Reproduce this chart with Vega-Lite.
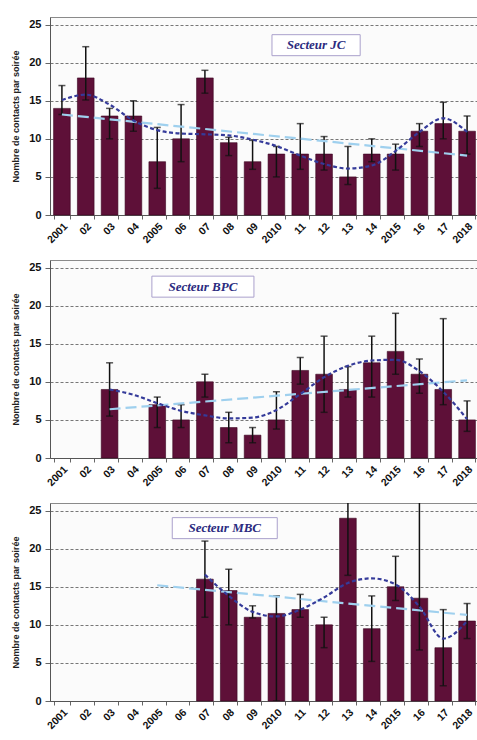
{
  "$schema": "https://vega.github.io/schema/vega-lite/v6.json",
  "padding": {"left": 11, "top": 16, "right": 0, "bottom": 0},
  "background": "white",
  "spacing": 13,
  "config": {
    "view": {"stroke": "#8a8a8a", "strokeWidth": 1, "fill": "#fbfbfb"},
    "font": "Liberation Sans",
    "axisY": {"title": "Nombre de contacts par soirée", "titleFont": "Liberation Sans", "titleFontSize": 9, "titleFontWeight": "bold", "titleColor": "#222", "titlePadding": 8,
      "values": [0, 5, 10, 15, 20, 25], "labelFont": "Liberation Sans", "labelFontWeight": "bold", "labelFontSize": 11, "labelColor": "#111", "labelPadding": 4,
      "tickSize": 5, "tickColor": "#666", "domainColor": "#555", "grid": true, "gridDash": [3, 2], "gridColor": "#777"},
    "axisX": {"title": null, "labelAngle": -45, "labelFont": "Liberation Sans", "labelFontWeight": "bold", "labelFontSize": 10.5, "labelColor": "#111", "tickBand": "extent", "tickSize": 4, "tickColor": "#666", "domainColor": "#555", "labelPadding": 2, "grid": false}
  },
  "datasets": {
    "bars": [
      {"s": "JC", "a": "2001", "n": 14, "lo": 13.2, "hi": 17},
      {"s": "JC", "a": "02", "n": 18, "lo": 15.1, "hi": 22.1},
      {"s": "JC", "a": "03", "n": 13, "lo": 10, "hi": 14},
      {"s": "JC", "a": "04", "n": 13, "lo": 11, "hi": 15},
      {"s": "JC", "a": "2005", "n": 7, "lo": 3.5, "hi": 11.5},
      {"s": "JC", "a": "06", "n": 10, "lo": 7, "hi": 14.5},
      {"s": "JC", "a": "07", "n": 18, "lo": 16, "hi": 19},
      {"s": "JC", "a": "08", "n": 9.5, "lo": 7.8, "hi": 10.2},
      {"s": "JC", "a": "09", "n": 7, "lo": 6, "hi": 9.8},
      {"s": "JC", "a": "2010", "n": 8, "lo": 5, "hi": 9},
      {"s": "JC", "a": "11", "n": 8, "lo": 6, "hi": 12},
      {"s": "JC", "a": "12", "n": 8, "lo": 5.9, "hi": 10.3},
      {"s": "JC", "a": "13", "n": 5, "lo": 4, "hi": 9},
      {"s": "JC", "a": "14", "n": 8, "lo": 7, "hi": 10},
      {"s": "JC", "a": "2015", "n": 8, "lo": 5.9, "hi": 9.3},
      {"s": "JC", "a": "16", "n": 11, "lo": 9, "hi": 12},
      {"s": "JC", "a": "17", "n": 12, "lo": 10, "hi": 14.8},
      {"s": "JC", "a": "2018", "n": 11, "lo": 8, "hi": 13},
      {"s": "BPC", "a": "03", "n": 9, "lo": 5.5, "hi": 12.5},
      {"s": "BPC", "a": "2005", "n": 7, "lo": 4, "hi": 8},
      {"s": "BPC", "a": "06", "n": 5, "lo": 4, "hi": 7},
      {"s": "BPC", "a": "07", "n": 10, "lo": 8, "hi": 11},
      {"s": "BPC", "a": "08", "n": 4, "lo": 2, "hi": 6},
      {"s": "BPC", "a": "09", "n": 3, "lo": 2, "hi": 4},
      {"s": "BPC", "a": "2010", "n": 5, "lo": 3.8, "hi": 8.7},
      {"s": "BPC", "a": "11", "n": 11.5, "lo": 9.7, "hi": 13.2},
      {"s": "BPC", "a": "12", "n": 11, "lo": 6, "hi": 16},
      {"s": "BPC", "a": "13", "n": 9, "lo": 8, "hi": 12},
      {"s": "BPC", "a": "14", "n": 12.5, "lo": 8, "hi": 16},
      {"s": "BPC", "a": "2015", "n": 14, "lo": 11, "hi": 19},
      {"s": "BPC", "a": "16", "n": 11, "lo": 8.5, "hi": 13},
      {"s": "BPC", "a": "17", "n": 9, "lo": 7, "hi": 18.3},
      {"s": "BPC", "a": "2018", "n": 5, "lo": 3.5, "hi": 7.5},
      {"s": "MBC", "a": "07", "n": 16, "lo": 11, "hi": 21},
      {"s": "MBC", "a": "08", "n": 14.5, "lo": 10, "hi": 17.3},
      {"s": "MBC", "a": "09", "n": 11, "lo": 10.9, "hi": 12.5},
      {"s": "MBC", "a": "2010", "n": 11.5, "lo": 0, "hi": 13.8},
      {"s": "MBC", "a": "11", "n": 12, "lo": 11, "hi": 14},
      {"s": "MBC", "a": "12", "n": 10, "lo": 7, "hi": 11},
      {"s": "MBC", "a": "13", "n": 24, "lo": 16.5, "hi": 31.5},
      {"s": "MBC", "a": "14", "n": 9.5, "lo": 5.2, "hi": 13.8},
      {"s": "MBC", "a": "2015", "n": 15, "lo": 13.2, "hi": 19},
      {"s": "MBC", "a": "16", "n": 13.5, "lo": 6.7, "hi": 27},
      {"s": "MBC", "a": "17", "n": 7, "lo": 2, "hi": 12},
      {"s": "MBC", "a": "2018", "n": 10.5, "lo": 8.2, "hi": 12.8}
    ],
    "poly": [
      {"s": "JC", "a": "2001", "v": 15.1},
      {"s": "JC", "a": "02", "v": 15.8},
      {"s": "JC", "a": "03", "v": 14.5},
      {"s": "JC", "a": "04", "v": 12.4},
      {"s": "JC", "a": "2005", "v": 11.15},
      {"s": "JC", "a": "06", "v": 10.7},
      {"s": "JC", "a": "07", "v": 10.6},
      {"s": "JC", "a": "08", "v": 10.45},
      {"s": "JC", "a": "09", "v": 9.9},
      {"s": "JC", "a": "2010", "v": 9.05},
      {"s": "JC", "a": "11", "v": 7.8},
      {"s": "JC", "a": "12", "v": 6.7},
      {"s": "JC", "a": "13", "v": 6.1},
      {"s": "JC", "a": "14", "v": 6.5},
      {"s": "JC", "a": "2015", "v": 8.4},
      {"s": "JC", "a": "16", "v": 10.9},
      {"s": "JC", "a": "17", "v": 12.7},
      {"s": "JC", "a": "2018", "v": 10.9},
      {"s": "BPC", "a": "03", "v": 9.0},
      {"s": "BPC", "a": "04", "v": 8.3},
      {"s": "BPC", "a": "2005", "v": 7.2},
      {"s": "BPC", "a": "06", "v": 6.2},
      {"s": "BPC", "a": "07", "v": 5.6},
      {"s": "BPC", "a": "08", "v": 5.2},
      {"s": "BPC", "a": "09", "v": 5.3},
      {"s": "BPC", "a": "2010", "v": 6.3},
      {"s": "BPC", "a": "11", "v": 8.4},
      {"s": "BPC", "a": "12", "v": 10.6},
      {"s": "BPC", "a": "13", "v": 12.1},
      {"s": "BPC", "a": "14", "v": 12.8},
      {"s": "BPC", "a": "2015", "v": 12.9},
      {"s": "BPC", "a": "16", "v": 11.4},
      {"s": "BPC", "a": "17", "v": 8.7},
      {"s": "BPC", "a": "2018", "v": 5.1},
      {"s": "MBC", "a": "07", "v": 16.6},
      {"s": "MBC", "a": "08", "v": 13.8},
      {"s": "MBC", "a": "09", "v": 11.7},
      {"s": "MBC", "a": "2010", "v": 11.1},
      {"s": "MBC", "a": "11", "v": 12.0},
      {"s": "MBC", "a": "12", "v": 13.6},
      {"s": "MBC", "a": "13", "v": 15.5},
      {"s": "MBC", "a": "14", "v": 16.1},
      {"s": "MBC", "a": "2015", "v": 15.3},
      {"s": "MBC", "a": "16", "v": 12.4},
      {"s": "MBC", "a": "17", "v": 8.2},
      {"s": "MBC", "a": "2018", "v": 10.5}
    ],
    "lin": [
      {"s": "JC", "a": "2001", "v": 13.2},
      {"s": "JC", "a": "2018", "v": 7.8},
      {"s": "BPC", "a": "03", "v": 6.4},
      {"s": "BPC", "a": "2018", "v": 10.2},
      {"s": "MBC", "a": "2005", "v": 15.2},
      {"s": "MBC", "a": "2018", "v": 11.3}
    ],
    "boxes": [
      {"s": "JC", "a": "12", "v": 22.3, "label": "Secteur JC"},
      {"s": "BPC", "a": "07", "v": 22.5, "label": "Secteur BPC"},
      {"s": "MBC", "a": "08", "v": 22.7, "label": "Secteur MBC"}
    ]
  },
  "vconcat": [
    {
      "width": 429, "height": 198,
      "encoding": {
        "x": {"field": "a", "type": "ordinal", "sort": null,
          "scale": {"domain": ["2001","02","03","04","2005","06","07","08","09","2010","11","12","13","14","2015","16","17","2018"], "paddingInner": 0.3, "paddingOuter": 0.15}}
      },
      "layer": [
        {"data": {"name": "bars"}, "transform": [{"filter": "datum.s === 'JC'"}],
          "mark": {"type": "bar", "color": "#5e1038", "stroke": "#3a0520", "strokeWidth": 0.6},
          "encoding": {"y": {"field": "n", "type": "quantitative", "scale": {"domain": [0, 25]}, "title": "Nombre de contacts par soirée"}}},
        {"data": {"name": "bars"}, "transform": [{"filter": "datum.s === 'JC'"}],
          "mark": {"type": "rule", "color": "#111", "strokeWidth": 1.5, "clip": true},
          "encoding": {"y": {"field": "lo", "type": "quantitative", "title": "Nombre de contacts par soirée"}, "y2": {"field": "hi"}}},
        {"data": {"name": "bars"}, "transform": [{"filter": "datum.s === 'JC'"}],
          "mark": {"type": "tick", "color": "#111", "size": 7, "thickness": 1.5, "clip": true},
          "encoding": {"y": {"field": "lo", "type": "quantitative", "title": "Nombre de contacts par soirée"}}},
        {"data": {"name": "bars"}, "transform": [{"filter": "datum.s === 'JC'"}],
          "mark": {"type": "tick", "color": "#111", "size": 7, "thickness": 1.5, "clip": true},
          "encoding": {"y": {"field": "hi", "type": "quantitative", "title": "Nombre de contacts par soirée"}}},
        {"data": {"name": "lin"}, "transform": [{"filter": "datum.s === 'JC'"}],
          "mark": {"type": "line", "color": "#9fd0ee", "strokeWidth": 2.2, "strokeDash": [11, 5]},
          "encoding": {"y": {"field": "v", "type": "quantitative", "title": "Nombre de contacts par soirée"}}},
        {"data": {"name": "poly"}, "transform": [{"filter": "datum.s === 'JC'"}],
          "mark": {"type": "line", "color": "#353b9a", "strokeWidth": 2.2, "strokeDash": [4, 2.5], "interpolate": "monotone"},
          "encoding": {"y": {"field": "v", "type": "quantitative", "title": "Nombre de contacts par soirée"}}},
        {"data": {"name": "boxes"}, "transform": [{"filter": "datum.s === 'JC'"}],
          "mark": {"type": "point", "shape": "M-2.1,-0.5H2.1V0.5H-2.1Z", "size": 1764, "filled": true, "fill": "white", "stroke": "#aaa0cc", "strokeWidth": 1, "opacity": 1, "xOffset": -8},
          "encoding": {"y": {"field": "v", "type": "quantitative", "title": "Nombre de contacts par soirée"}}},
        {"data": {"name": "boxes"}, "transform": [{"filter": "datum.s === 'JC'"}],
          "mark": {"type": "text", "font": "Liberation Serif", "fontStyle": "italic", "fontWeight": "bold", "fontSize": 13, "color": "#2b2b80", "dx": -8, "baseline": "middle"},
          "encoding": {"y": {"field": "v", "type": "quantitative", "title": "Nombre de contacts par soirée"}, "text": {"field": "label"}}}
      ]
    },
    {
      "width": 429, "height": 198,
      "encoding": {
        "x": {"field": "a", "type": "ordinal", "sort": null,
          "scale": {"domain": ["2001","02","03","04","2005","06","07","08","09","2010","11","12","13","14","2015","16","17","2018"], "paddingInner": 0.3, "paddingOuter": 0.15}}
      },
      "layer": [
        {"data": {"name": "bars"}, "transform": [{"filter": "datum.s === 'BPC'"}],
          "mark": {"type": "bar", "color": "#5e1038", "stroke": "#3a0520", "strokeWidth": 0.6},
          "encoding": {"y": {"field": "n", "type": "quantitative", "scale": {"domain": [0, 25]}, "title": "Nombre de contacts par soirée"}}},
        {"data": {"name": "bars"}, "transform": [{"filter": "datum.s === 'BPC'"}],
          "mark": {"type": "rule", "color": "#111", "strokeWidth": 1.5, "clip": true},
          "encoding": {"y": {"field": "lo", "type": "quantitative", "title": "Nombre de contacts par soirée"}, "y2": {"field": "hi"}}},
        {"data": {"name": "bars"}, "transform": [{"filter": "datum.s === 'BPC'"}],
          "mark": {"type": "tick", "color": "#111", "size": 7, "thickness": 1.5, "clip": true},
          "encoding": {"y": {"field": "lo", "type": "quantitative", "title": "Nombre de contacts par soirée"}}},
        {"data": {"name": "bars"}, "transform": [{"filter": "datum.s === 'BPC'"}],
          "mark": {"type": "tick", "color": "#111", "size": 7, "thickness": 1.5, "clip": true},
          "encoding": {"y": {"field": "hi", "type": "quantitative", "title": "Nombre de contacts par soirée"}}},
        {"data": {"name": "lin"}, "transform": [{"filter": "datum.s === 'BPC'"}],
          "mark": {"type": "line", "color": "#9fd0ee", "strokeWidth": 2.2, "strokeDash": [11, 5]},
          "encoding": {"y": {"field": "v", "type": "quantitative", "title": "Nombre de contacts par soirée"}}},
        {"data": {"name": "poly"}, "transform": [{"filter": "datum.s === 'BPC'"}],
          "mark": {"type": "line", "color": "#353b9a", "strokeWidth": 2.2, "strokeDash": [4, 2.5], "interpolate": "monotone"},
          "encoding": {"y": {"field": "v", "type": "quantitative", "title": "Nombre de contacts par soirée"}}},
        {"data": {"name": "boxes"}, "transform": [{"filter": "datum.s === 'BPC'"}],
          "mark": {"type": "point", "shape": "M-2.43,-0.5H2.43V0.5H-2.43Z", "size": 1764, "filled": true, "fill": "white", "stroke": "#aaa0cc", "strokeWidth": 1, "opacity": 1, "xOffset": -2},
          "encoding": {"y": {"field": "v", "type": "quantitative", "title": "Nombre de contacts par soirée"}}},
        {"data": {"name": "boxes"}, "transform": [{"filter": "datum.s === 'BPC'"}],
          "mark": {"type": "text", "font": "Liberation Serif", "fontStyle": "italic", "fontWeight": "bold", "fontSize": 13, "color": "#2b2b80", "dx": -2, "baseline": "middle"},
          "encoding": {"y": {"field": "v", "type": "quantitative", "title": "Nombre de contacts par soirée"}, "text": {"field": "label"}}}
      ]
    },
    {
      "width": 429, "height": 198,
      "encoding": {
        "x": {"field": "a", "type": "ordinal", "sort": null,
          "scale": {"domain": ["2001","02","03","04","2005","06","07","08","09","2010","11","12","13","14","2015","16","17","2018"], "paddingInner": 0.3, "paddingOuter": 0.15}}
      },
      "layer": [
        {"data": {"name": "bars"}, "transform": [{"filter": "datum.s === 'MBC'"}],
          "mark": {"type": "bar", "color": "#5e1038", "stroke": "#3a0520", "strokeWidth": 0.6},
          "encoding": {"y": {"field": "n", "type": "quantitative", "scale": {"domain": [0, 25]}, "title": "Nombre de contacts par soirée"}}},
        {"data": {"name": "bars"}, "transform": [{"filter": "datum.s === 'MBC'"}],
          "mark": {"type": "rule", "color": "#111", "strokeWidth": 1.5, "clip": true},
          "encoding": {"y": {"field": "lo", "type": "quantitative", "title": "Nombre de contacts par soirée"}, "y2": {"field": "hi"}}},
        {"data": {"name": "bars"}, "transform": [{"filter": "datum.s === 'MBC'"}],
          "mark": {"type": "tick", "color": "#111", "size": 7, "thickness": 1.5, "clip": true},
          "encoding": {"y": {"field": "lo", "type": "quantitative", "title": "Nombre de contacts par soirée"}}},
        {"data": {"name": "bars"}, "transform": [{"filter": "datum.s === 'MBC'"}],
          "mark": {"type": "tick", "color": "#111", "size": 7, "thickness": 1.5, "clip": true},
          "encoding": {"y": {"field": "hi", "type": "quantitative", "title": "Nombre de contacts par soirée"}}},
        {"data": {"name": "lin"}, "transform": [{"filter": "datum.s === 'MBC'"}],
          "mark": {"type": "line", "color": "#9fd0ee", "strokeWidth": 2.2, "strokeDash": [11, 5]},
          "encoding": {"y": {"field": "v", "type": "quantitative", "title": "Nombre de contacts par soirée"}}},
        {"data": {"name": "poly"}, "transform": [{"filter": "datum.s === 'MBC'"}],
          "mark": {"type": "line", "color": "#353b9a", "strokeWidth": 2.2, "strokeDash": [4, 2.5], "interpolate": "monotone"},
          "encoding": {"y": {"field": "v", "type": "quantitative", "title": "Nombre de contacts par soirée"}}},
        {"data": {"name": "boxes"}, "transform": [{"filter": "datum.s === 'MBC'"}],
          "mark": {"type": "point", "shape": "M-2.5,-0.5H2.5V0.5H-2.5Z", "size": 1764, "filled": true, "fill": "white", "stroke": "#aaa0cc", "strokeWidth": 1, "opacity": 1, "xOffset": -4},
          "encoding": {"y": {"field": "v", "type": "quantitative", "title": "Nombre de contacts par soirée"}}},
        {"data": {"name": "boxes"}, "transform": [{"filter": "datum.s === 'MBC'"}],
          "mark": {"type": "text", "font": "Liberation Serif", "fontStyle": "italic", "fontWeight": "bold", "fontSize": 13, "color": "#2b2b80", "dx": -4, "baseline": "middle"},
          "encoding": {"y": {"field": "v", "type": "quantitative", "title": "Nombre de contacts par soirée"}, "text": {"field": "label"}}}
      ]
    }
  ]
}
